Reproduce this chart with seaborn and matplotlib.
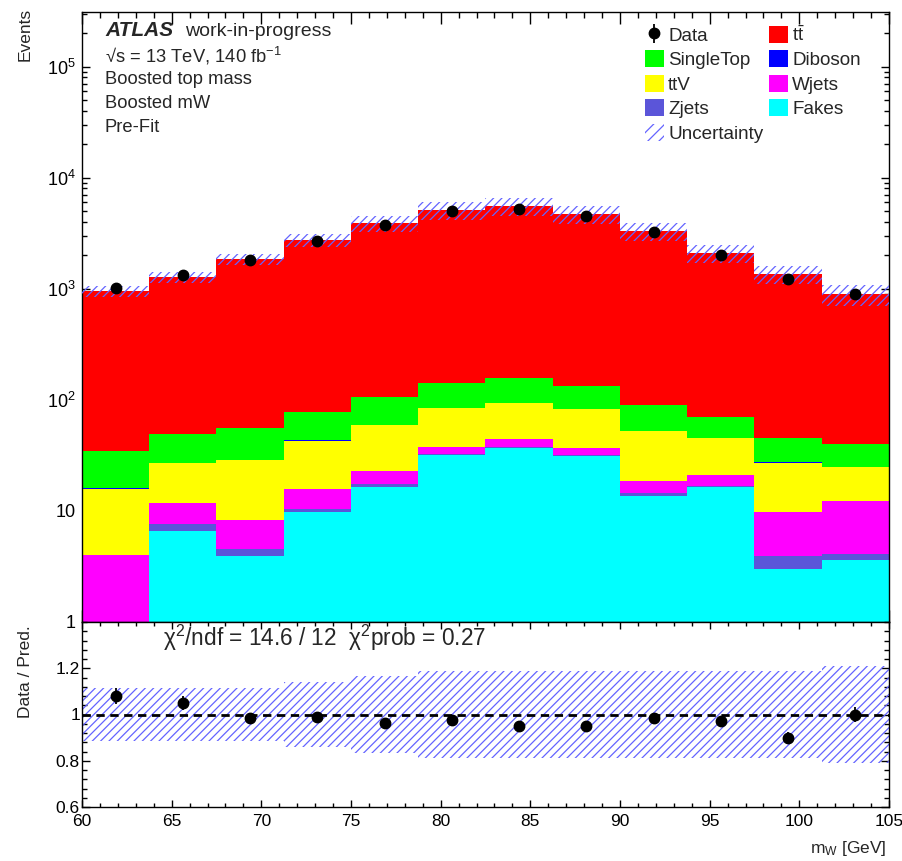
import numpy as np
import pandas as pd
import matplotlib
matplotlib.use("Agg")
import matplotlib.pyplot as plt
import seaborn as sns
from matplotlib.patches import Patch
from matplotlib.ticker import MultipleLocator, LogLocator, FixedLocator, NullFormatter
from matplotlib import font_manager

# ---------------- data ----------------
bin_edges = [60, 63.75, 67.5, 71.25, 75, 78.75, 82.5, 86.25, 90, 93.75, 97.5, 101.25, 105]

ttbar     = [915.5, 1218, 1797, 2664, 3802, 4974, 5397, 4576, 3211, 2025, 1310, 851]
singletop = [18.3, 21.8, 27.0, 34.9, 46.6, 56.8, 64.1, 51.6, 36.7, 25.1, 18.1, 15.3]
diboson   = [0.3, 0.3, 0.4, 0.4, 0.4, 0.5, 0.5, 0.5, 0.4, 0.3, 0.3, 0.3]
ttv       = [11.9, 15.2, 20.3, 27.0, 36.2, 46.2, 49.1, 45.4, 33.5, 23.9, 17.4, 12.3]
wjets     = [3.8, 4.1, 3.8, 5.4, 5.4, 5.0, 7.0, 4.9, 4.0, 4.1, 5.8, 8.2]
zjets     = [0.2, 1.0, 0.6, 0.5, 0.9, 0.3, 0.3, 0.3, 0.8, 0.6, 0.9, 0.5]
fakes     = [0.0, 6.6, 3.9, 9.8, 16.5, 32.2, 37.0, 31.3, 13.6, 16.3, 3.0, 3.6]

data      = [1026, 1330, 1825, 2715, 3771, 4987, 5277, 4475, 3250, 2032, 1220, 891]
rel_unc   = [0.113, 0.113, 0.113, 0.14, 0.167, 0.19, 0.19, 0.19, 0.19, 0.19, 0.19, 0.21]

sample_names  = ["ttbar", "SingleTop", "Diboson", "ttV", "Wjets", "Zjets", "Fakes"]
sample_values = [ttbar, singletop, diboson, ttv, wjets, zjets, fakes]
sample_colors = ["#ff0000", "#00ff00", "#0000ff", "#ffff00", "#ff00ff", "#5b55d9", "#00ffff"]
sample_labels = [r"t$\bar{\mathrm{t}}$", "SingleTop", "Diboson", "ttV", "Wjets", "Zjets", "Fakes"]

# ---------------- style ----------------
sns.set_theme(style="ticks")
plt.rcParams["font.family"] = ["Liberation Sans", "DejaVu Sans"]
plt.rcParams["mathtext.fontset"] = "custom"
plt.rcParams["mathtext.rm"] = "Liberation Sans"
plt.rcParams["mathtext.it"] = "Liberation Sans:italic"
plt.rcParams["mathtext.bf"] = "Liberation Sans:bold"
plt.rcParams["mathtext.default"] = "regular"
plt.rcParams["hatch.linewidth"] = 0.9
plt.rcParams["axes.linewidth"] = 1.0

installed = {f.name for f in font_manager.fontManager.ttflist}
narrow = "Liberation Sans Narrow" if "Liberation Sans Narrow" in installed else None

W, H = 903, 861
fig = plt.figure(figsize=(W / 100, H / 100), dpi=100)
ax = fig.add_axes([82 / W, 1 - 622 / H, (889 - 82) / W, (622 - 12) / H])
ax2 = fig.add_axes([82 / W, 1 - 807 / H, (889 - 82) / W, (807 - 622) / H], sharex=ax)

edges = np.array(bin_edges)
centers = 0.5 * (edges[:-1] + edges[1:])
widths = np.diff(edges)
nb = len(centers)

df = pd.DataFrame({
    "mW": np.tile(centers, len(sample_names)),
    "events": np.concatenate([np.array(v, float) for v in sample_values]),
    "sample": np.repeat(sample_names, nb),
})

sns.histplot(data=df, x="mW", weights="events", hue="sample", hue_order=sample_names,
             bins=bin_edges, multiple="stack", element="step", fill=True,
             palette=dict(zip(sample_names, sample_colors)), alpha=1, linewidth=0,
             legend=False, ax=ax)

total = np.sum([np.array(v, float) for v in sample_values], axis=0)
unc = np.array(rel_unc)
data_arr = np.array(data, float)

hatch_col = "#6464ff"
ax.bar(edges[:-1], 2 * unc * total, bottom=total * (1 - unc), width=widths, align="edge",
       fill=False, hatch="////", edgecolor=hatch_col, linewidth=0, zorder=4)
data_h = ax.errorbar(centers, data_arr, yerr=np.sqrt(data_arr), fmt="o", color="black",
                     ms=7.5, elinewidth=1.3, capsize=0, zorder=6)

ax.set_yscale("log")
ax.set_xlim(60, 105)
ax.set_ylim(1, 3.1e5)
ax.set_xlabel("")
ax.set_ylabel("")
ax.yaxis.set_major_locator(FixedLocator([1, 10, 100, 1e3, 1e4, 1e5]))
ax.set_yticklabels(["1", "10", "10$^{2}$", "10$^{3}$", "10$^{4}$", "10$^{5}$"])
ax.yaxis.set_minor_locator(LogLocator(base=10, subs=np.arange(2, 10), numticks=20))
ax.yaxis.set_minor_formatter(NullFormatter())
ax.xaxis.set_major_locator(MultipleLocator(5))
ax.xaxis.set_minor_locator(MultipleLocator(1))
ax.tick_params(which="both", direction="in", top=True, right=True, labelbottom=False,
               colors="black")
ax.tick_params(axis="x", which="major", length=8.6, width=1)
ax.tick_params(axis="x", which="minor", length=4.3, width=1)
ax.tick_params(axis="y", which="major", length=6, width=1, labelsize=13, pad=4.5)
ax.tick_params(axis="y", which="minor", length=3.4, width=1)
for s in ax.spines.values():
    s.set_color("black")

# ---------------- ratio ----------------
ratio = data_arr / total
ratio_err = np.sqrt(data_arr) / total
ax2.bar(edges[:-1], 2 * unc, bottom=1 - unc, width=widths, align="edge",
        fill=False, hatch="////", edgecolor=hatch_col, linewidth=0, zorder=2)
ax2.axhline(1, color="black", linestyle=(0, (3, 2)), linewidth=2, zorder=3)
ax2.errorbar(centers, ratio, yerr=ratio_err, fmt="o", color="black", ms=7.5,
             elinewidth=1.3, capsize=0, zorder=6)
ax2.set_ylim(0.6, 1.4)
ax2.set_xlim(60, 105)
ax2.yaxis.set_major_locator(FixedLocator([0.6, 0.8, 1.0, 1.2]))
ax2.set_yticklabels(["0.6", "0.8", "1", "1.2"])
ax2.yaxis.set_minor_locator(MultipleLocator(0.04))
ax2.xaxis.set_major_locator(MultipleLocator(5))
ax2.xaxis.set_minor_locator(MultipleLocator(1))
ax2.tick_params(which="both", direction="in", top=True, right=True, colors="black")
ax2.tick_params(axis="x", which="major", length=5, width=1, pad=5)
ax2.tick_params(axis="x", which="minor", length=2.8, width=1)
ax2.tick_params(axis="y", which="major", length=6, width=1, pad=1.5)
ax2.tick_params(axis="y", which="minor", length=3.4, width=1)
tick_family = [narrow, "Liberation Sans"] if narrow else ["Liberation Sans"]
tick_size = 14.5 if narrow else 12.5
for lab in ax2.get_xticklabels() + ax2.get_yticklabels():
    lab.set_family(tick_family)
    lab.set_fontsize(tick_size)
for s in ax2.spines.values():
    s.set_color("black")

ax2.text(163 / W, 1 - 638 / H, r"$\chi^{2}$/ndf = 14.6 / 12  $\chi^{2}$prob = 0.27",
         transform=fig.transFigure, fontsize=16.3, va="center", ha="left")

# ---------------- labels ----------------
fig.text(25 / W, 1 - 8 / H, "Events", rotation=90, ha="center", va="top", fontsize=12.5)
fig.text(26 / W, 1 - 625 / H, "Data / Pred.", rotation=90, ha="center", va="top", fontsize=12.5)
fig.text(887 / W, 1 - 848 / H, "m$_{W}$ [GeV]", ha="right", va="center", fontsize=12.5)

fig.text(105 / W, 1 - 31 / H, "ATLAS", fontsize=15, fontweight="bold", fontstyle="italic",
         va="center", ha="left")
fig.text(185 / W, 1 - 31 / H, "work-in-progress", fontsize=14, va="center", ha="left")
fig.text(105 / W, 1 - 56 / H, "√s = 13 TeV, 140 fb$^{-1}$", fontsize=13.2, va="center", ha="left")
fig.text(105 / W, 1 - 80 / H, "Boosted top mass", fontsize=13.2, va="center", ha="left")
fig.text(105 / W, 1 - 104 / H, "Boosted mW", fontsize=13.2, va="center", ha="left")
fig.text(105 / W, 1 - 128 / H, "Pre-Fit", fontsize=13.2, va="center", ha="left")

# ---------------- legend ----------------
patches = {n: Patch(facecolor=c, edgecolor="none") for n, c in zip(sample_names, sample_colors)}
unc_patch = Patch(facecolor="none", edgecolor=hatch_col, hatch="///", linewidth=0)
labels_map = dict(zip(sample_names, sample_labels))
col1 = [(data_h, "Data"), (patches["SingleTop"], "SingleTop"), (patches["ttV"], "ttV"),
        (patches["Zjets"], "Zjets"), (unc_patch, "Uncertainty")]
col2 = [(patches["ttbar"], labels_map["ttbar"]), (patches["Diboson"], "Diboson"),
        (patches["Wjets"], "Wjets"), (patches["Fakes"], "Fakes")]
handles = [h for h, _ in col1 + col2]
labels = [l for _, l in col1 + col2]
fig.legend(handles, labels, ncol=2, loc="upper left", bbox_to_anchor=(645 / W, 1 - 25 / H),
           frameon=False, fontsize=13.6, handlelength=1.0, handleheight=1.0,
           handletextpad=0.22, columnspacing=0.3, labelspacing=0.3, borderpad=0,
           borderaxespad=0)

fig.savefig("out.png", dpi=100)
